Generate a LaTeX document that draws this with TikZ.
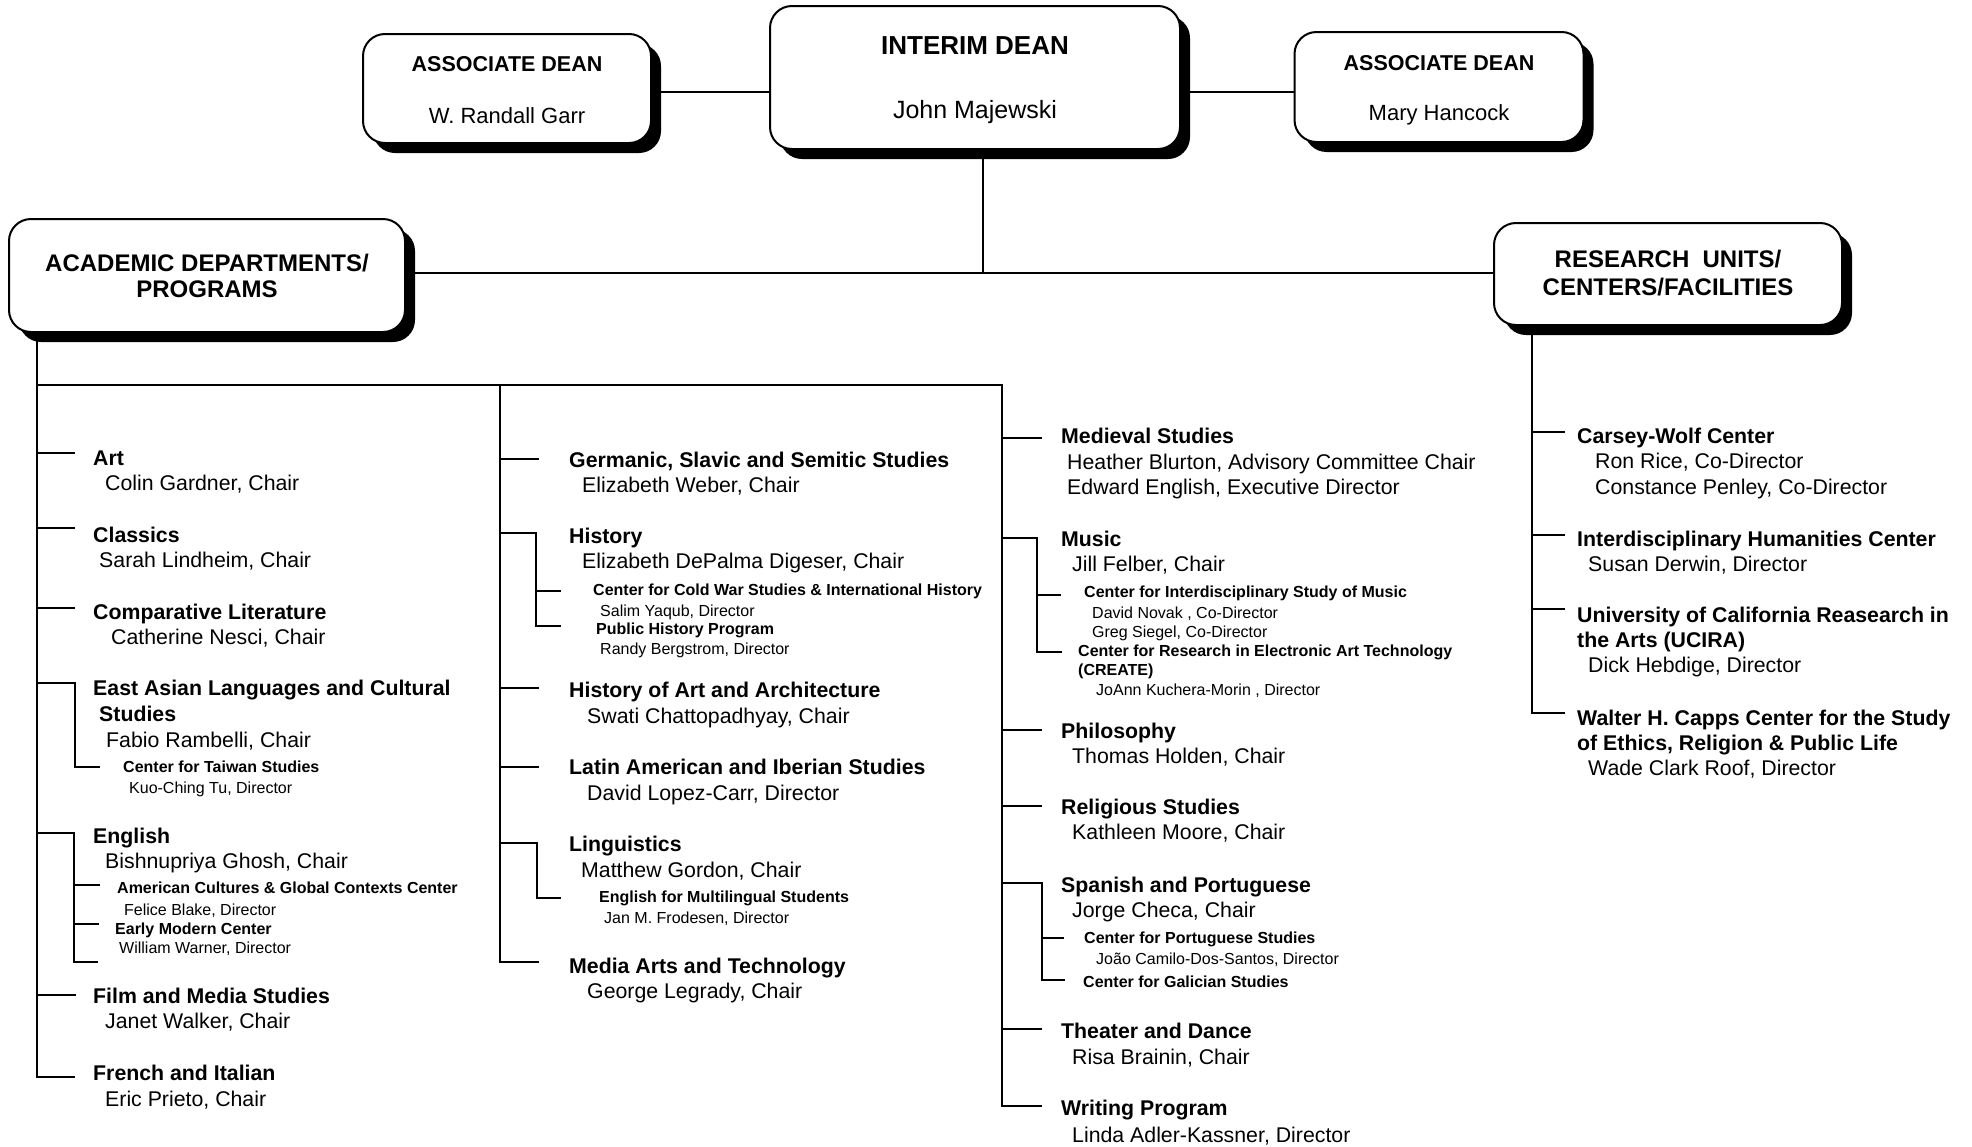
\documentclass[tikz,border=0pt]{standalone}
\usepackage{fontspec}
\setmainfont{Liberation Sans}
\usetikzlibrary{shadows}
\begin{document}
\begin{tikzpicture}[x=1pt,y=-1pt,
  box/.style={draw=black,line width=2pt,fill=white,rounded corners=22pt,inner sep=0pt,align=center,
    drop shadow={shadow xshift=10pt,shadow yshift=-10pt,opacity=1,fill=black}},
  ttl/.style={anchor=base west,inner sep=0pt,font=\fontsize{21.3}{25}\selectfont\bfseries},
  nm/.style={anchor=base west,inner sep=0pt,font=\fontsize{21.3}{25}\selectfont},
  sttl/.style={anchor=base west,inner sep=0pt,font=\fontsize{16}{19}\selectfont\bfseries},
  snm/.style={anchor=base west,inner sep=0pt,font=\fontsize{16}{19}\selectfont},
  ln/.style={line width=2.8pt},
  lnt/.style={line width=2pt}]
\fill[white] (0,0) rectangle (1972,1146);
\useasboundingbox (0,0) rectangle (1972,1146);

% ---------- boxes ----------
\node[box,minimum width=288pt,minimum height=109pt,text height=80pt,text depth=11pt,font=\fontsize{22}{26}\selectfont]
  (ad1) at (507,88.5) {{\fontsize{21.5}{26}\selectfont\bfseries ASSOCIATE DEAN}\\[26pt]W. Randall Garr};
\node[box,minimum width=410pt,minimum height=143pt,text height=90pt,text depth=9pt,font=\fontsize{25}{26}\selectfont]
  (dean) at (975,77.5) {{\fontsize{26}{26}\selectfont\bfseries INTERIM DEAN}\\[38pt]John Majewski};
\node[box,minimum width=289pt,minimum height=110pt,text height=75pt,text depth=9pt,font=\fontsize{22}{26}\selectfont]
  (ad2) at (1439,87) {{\fontsize{21.5}{26}\selectfont\bfseries ASSOCIATE DEAN}\\[24pt]Mary Hancock};
\node[box,minimum width=396pt,minimum height=113pt,text height=50pt,text depth=7pt,font=\fontsize{24}{26}\selectfont\bfseries]
  (acad) at (207,275.5) {ACADEMIC DEPARTMENTS/\\PROGRAMS};
\node[box,minimum width=348pt,minimum height=102pt,text height=50pt,text depth=8pt,font=\fontsize{24}{28}\selectfont\bfseries]
  (res) at (1668,274) {RESEARCH\ \ UNITS/\\CENTERS/FACILITIES};

% ---------- top connectors ----------
\coordinate (vx) at (983,0);
\coordinate (hb) at (0,273);
\coordinate (hd) at (0,92);
\draw[ln] (ad1.east |- hd) -- (dean.west |- hd);
\draw[ln] (dean.east |- hd) -- (ad2.west |- hd);
\draw[lnt] (dean.south -| vx) -- (vx |- hb);
\draw[ln] (acad.east |- hb) -- (res.west |- hb);

% ---------- spine coordinates ----------
\coordinate (sp1) at (37,385);
\coordinate (sp2) at (500,385);
\coordinate (sp3) at (1002,385);
\coordinate (sp4) at (1532,0);

% column 1 tick ends
\coordinate (art-k) at (75,453);
\coordinate (cla-k) at (75,528);
\coordinate (com-k) at (75,608);
\coordinate (eas-k) at (75,683);
\coordinate (tw-k) at (100,767);
\coordinate (eng-k) at (74,833);
\coordinate (ac-k) at (100,885);
\coordinate (em-k) at (99,924);
\coordinate (ex-k) at (98,962);
\coordinate (fil-k) at (76,995);
\coordinate (fre-k) at (75,1077);
% column 2
\coordinate (ger-k) at (539,459);
\coordinate (his-k) at (536,533);
\coordinate (cw-k) at (561,591);
\coordinate (ph-k) at (561,626);
\coordinate (hoa-k) at (539,688);
\coordinate (lat-k) at (539,767);
\coordinate (lin-k) at (537,843);
\coordinate (efm-k) at (561,898);
\coordinate (med-k) at (539,962);
% column 3
\coordinate (mev-k) at (1042,438);
\coordinate (mus-k) at (1037,538);
\coordinate (cis-k) at (1061,595);
\coordinate (cre-k) at (1062,652);
\coordinate (phi-k) at (1042,730);
\coordinate (rel-k) at (1042,806);
\coordinate (spa-k) at (1042,883);
\coordinate (por-k) at (1064,938);
\coordinate (gal-k) at (1065,980);
\coordinate (the-k) at (1042,1029);
\coordinate (wri-k) at (1042,1106);
% column 4
\coordinate (cwc-k) at (1565,432);
\coordinate (ihc-k) at (1565,535);
\coordinate (uc-k) at (1565,609);
\coordinate (wal-k) at (1565,713);

% ---------- spines ----------
\draw[lnt] (acad.south -| sp1) -- (sp1);
\draw[ln] (sp1) -- (sp1 |- fre-k) -- (fre-k);
\draw[ln] (sp1) -- (sp3) -- (sp3 |- wri-k) -- (wri-k);
\draw[ln] (sp2) -- (sp2 |- med-k) -- (med-k);
\draw[ln] (res.south -| sp4) -- (sp4 |- wal-k) -- (wal-k);

% ---------- ticks column 1 ----------
\draw[ln] (sp1 |- art-k) -- (art-k);
\draw[ln] (sp1 |- cla-k) -- (cla-k);
\draw[ln] (sp1 |- com-k) -- (com-k);
\draw[ln] (sp1 |- eas-k) -- (eas-k) -- (eas-k |- tw-k) -- (tw-k);
\draw[ln] (sp1 |- eng-k) -- (eng-k) -- (eng-k |- ex-k) -- (ex-k);
\draw[ln] (eng-k |- ac-k) -- (ac-k);
\draw[ln] (eng-k |- em-k) -- (em-k);
\draw[ln] (sp1 |- fil-k) -- (fil-k);
% column 2
\draw[ln] (sp2 |- ger-k) -- (ger-k);
\draw[ln] (sp2 |- his-k) -- (his-k) -- (his-k |- ph-k) -- (ph-k);
\draw[ln] (his-k |- cw-k) -- (cw-k);
\draw[ln] (sp2 |- hoa-k) -- (hoa-k);
\draw[ln] (sp2 |- lat-k) -- (lat-k);
\draw[ln] (sp2 |- lin-k) -- (lin-k) -- (lin-k |- efm-k) -- (efm-k);
% column 3
\draw[ln] (sp3 |- mev-k) -- (mev-k);
\draw[ln] (sp3 |- mus-k) -- (mus-k) -- (mus-k |- cre-k) -- (cre-k);
\draw[ln] (mus-k |- cis-k) -- (cis-k);
\draw[ln] (sp3 |- phi-k) -- (phi-k);
\draw[ln] (sp3 |- rel-k) -- (rel-k);
\draw[ln] (sp3 |- spa-k) -- (spa-k) -- (spa-k |- gal-k) -- (gal-k);
\draw[ln] (spa-k |- por-k) -- (por-k);
\draw[ln] (sp3 |- the-k) -- (the-k);
% column 4
\draw[ln] (sp4 |- cwc-k) -- (cwc-k);
\draw[ln] (sp4 |- ihc-k) -- (ihc-k);
\draw[ln] (sp4 |- uc-k) -- (uc-k);

% ---------- texts column 1 ----------
\node[ttl] (art) at (93,465) {Art};
\node[nm] (art-n) at (105,490) {Colin Gardner, Chair};
\node[ttl] (cla) at (93,542) {Classics};
\node[nm] (cla-n) at (99,567) {Sarah Lindheim, Chair};
\node[ttl] (com) at (93,619) {Comparative Literature};
\node[nm] (com-n) at (111,644) {Catherine Nesci, Chair};
\node[ttl] (eas) at (93,695) {East Asian Languages and Cultural};
\node[ttl] (eas-b) at (99,721) {Studies};
\node[nm] (eas-n) at (106,747) {Fabio Rambelli, Chair};
\node[sttl] (tw) at (123,772) {Center for Taiwan Studies};
\node[snm] (tw-n) at (129,793) {Kuo-Ching Tu, Director};
\node[ttl] (eng) at (93,843) {English};
\node[nm] (eng-n) at (105,868) {Bishnupriya Ghosh, Chair};
\node[sttl] (ac) at (117,893) {American Cultures \& Global Contexts Center};
\node[snm] (ac-n) at (124,915) {Felice Blake, Director};
\node[sttl] (em) at (115,934) {Early Modern Center};
\node[snm] (em-n) at (119,953) {William Warner, Director};
\node[ttl] (fil) at (93,1003) {Film and Media Studies};
\node[nm] (fil-n) at (105,1028) {Janet Walker, Chair};
\node[ttl] (fre) at (93,1080) {French and Italian};
\node[nm] (fre-n) at (105,1106) {Eric Prieto, Chair};

% ---------- texts column 2 ----------
\node[ttl] (ger) at (569,467) {Germanic, Slavic and Semitic Studies};
\node[nm] (ger-n) at (582,492) {Elizabeth Weber, Chair};
\node[ttl] (his) at (569,543) {History};
\node[nm] (his-n) at (582,568) {Elizabeth DePalma Digeser, Chair};
\node[sttl] (cw) at (593,595) {Center for Cold War Studies \& International History};
\node[snm] (cw-n) at (600,616) {Salim Yaqub, Director};
\node[sttl] (ph) at (596,634) {Public History Program};
\node[snm] (ph-n) at (600,654) {Randy Bergstrom, Director};
\node[ttl] (hoa) at (569,697) {History of Art and Architecture};
\node[nm] (hoa-n) at (587,723) {Swati Chattopadhyay, Chair};
\node[ttl] (lat) at (569,774) {Latin American and Iberian Studies};
\node[nm] (lat-n) at (587,800) {David Lopez-Carr, Director};
\node[ttl] (lin) at (569,851) {Linguistics};
\node[nm] (lin-n) at (581,877) {Matthew Gordon, Chair};
\node[sttl] (efm) at (599,902) {English for Multilingual Students};
\node[snm] (efm-n) at (604,923) {Jan M. Frodesen, Director};
\node[ttl] (med) at (569,973) {Media Arts and Technology};
\node[nm] (med-n) at (587,998) {George Legrady, Chair};

% ---------- texts column 3 ----------
\node[ttl] (mev) at (1061,443) {Medieval Studies};
\node[nm] (mev-n) at (1067,469) {Heather Blurton, Advisory Committee Chair};
\node[nm] (mev-m) at (1067,494) {Edward English, Executive Director};
\node[ttl] (mus) at (1061,546) {Music};
\node[nm] (mus-n) at (1072,571) {Jill Felber, Chair};
\node[sttl] (cis) at (1084,597) {Center for Interdisciplinary Study of Music};
\node[snm] (cis-n) at (1092,618) {David Novak , Co-Director};
\node[snm] (cis-m) at (1092,637) {Greg Siegel, Co-Director};
\node[sttl] (cre) at (1078,656) {Center for Research in Electronic Art Technology};
\node[sttl] (cre-b) at (1078,675) {(CREATE)};
\node[snm] (cre-n) at (1096,695) {JoAnn Kuchera-Morin , Director};
\node[ttl] (phi) at (1061,738) {Philosophy};
\node[nm] (phi-n) at (1072,763) {Thomas Holden, Chair};
\node[ttl] (rel) at (1061,814) {Religious Studies};
\node[nm] (rel-n) at (1072,839) {Kathleen Moore, Chair};
\node[ttl] (spa) at (1061,892) {Spanish and Portuguese};
\node[nm] (spa-n) at (1072,917) {Jorge Checa, Chair};
\node[sttl] (por) at (1084,943) {Center for Portuguese Studies};
\node[snm] (por-n) at (1096,964) {João Camilo-Dos-Santos, Director};
\node[sttl] (gal) at (1083,987) {Center for Galician Studies};
\node[ttl] (the) at (1061,1038) {Theater and Dance};
\node[nm] (the-n) at (1072,1064) {Risa Brainin, Chair};
\node[ttl] (wri) at (1061,1115) {Writing Program};
\node[nm] (wri-n) at (1072,1142) {Linda Adler-Kassner, Director};

% ---------- texts column 4 ----------
\node[ttl] (cwc) at (1577,443) {Carsey-Wolf Center};
\node[nm] (cwc-n) at (1595,468) {Ron Rice, Co-Director};
\node[nm] (cwc-m) at (1595,494) {Constance Penley, Co-Director};
\node[ttl] (ihc) at (1577,546) {Interdisciplinary Humanities Center};
\node[nm] (ihc-n) at (1588,571) {Susan Derwin, Director};
\node[ttl] (uc) at (1577,622) {University of California Reasearch in};
\node[ttl] (uc-b) at (1577,647) {the Arts (UCIRA)};
\node[nm] (uc-n) at (1588,672) {Dick Hebdige, Director};
\node[ttl] (wal) at (1577,725) {Walter H. Capps Center for the Study};
\node[ttl] (wal-b) at (1577,750) {of Ethics, Religion \& Public Life};
\node[nm] (wal-n) at (1588,775) {Wade Clark Roof, Director};
\end{tikzpicture}
\end{document}
